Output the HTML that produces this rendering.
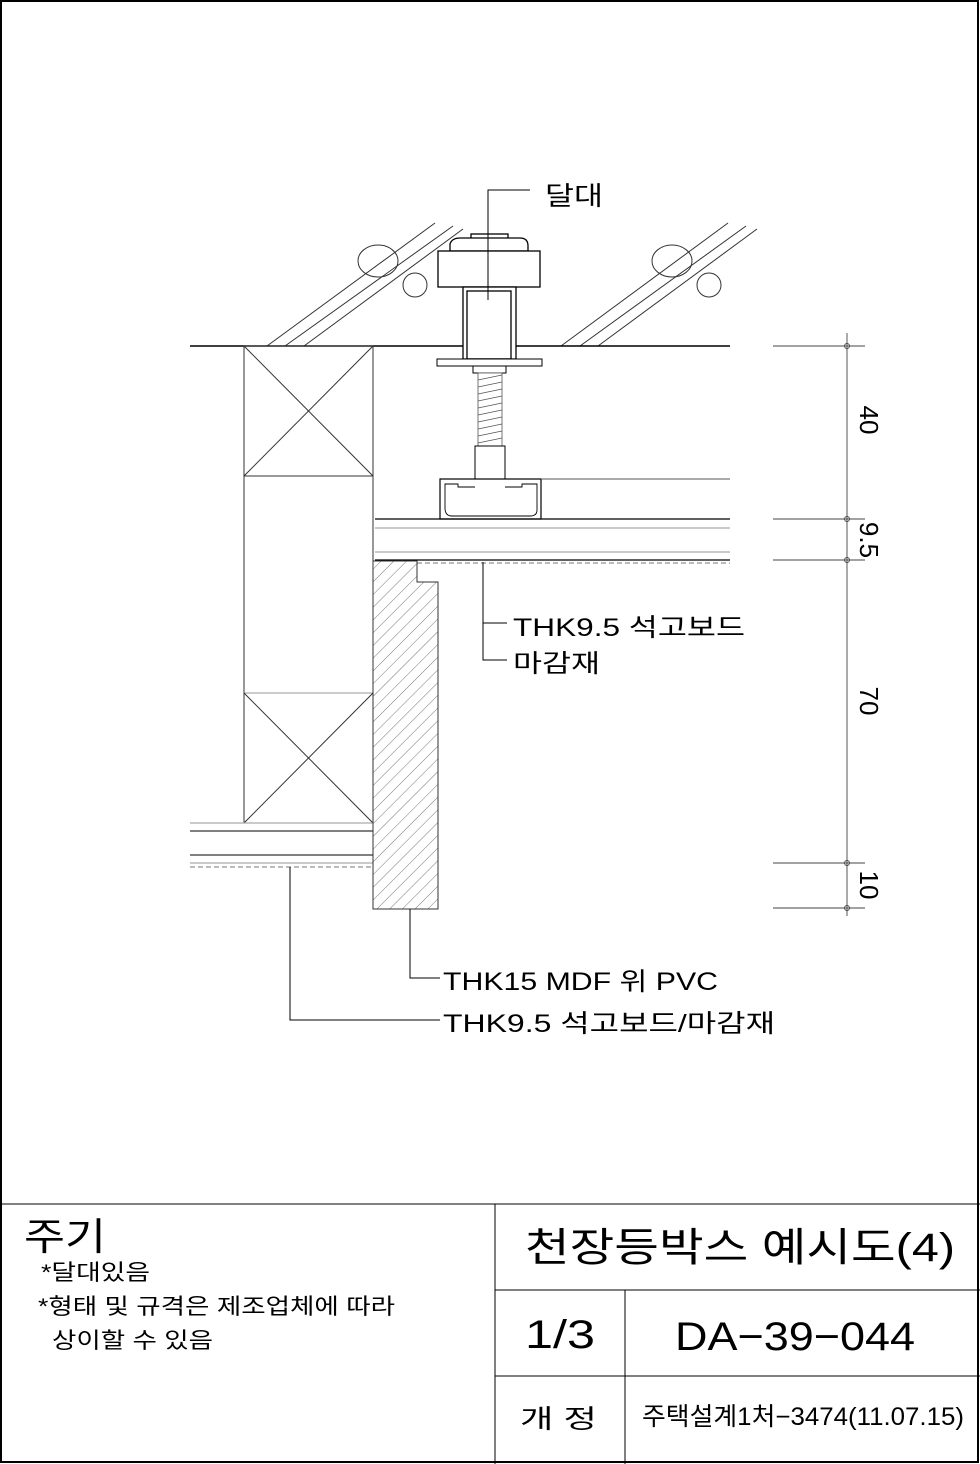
<!DOCTYPE html>
<html><head><meta charset="utf-8"><style>
html,body{margin:0;padding:0;background:#fff}
svg{display:block}
text{font-family:"Liberation Sans","Noto Sans CJK KR",sans-serif;fill:#000}
</style></head><body>
<svg width="980" height="1464" viewBox="0 0 980 1464">
<defs>
<pattern id="hatch" patternUnits="userSpaceOnUse" width="9" height="9" patternTransform="rotate(45)">
<line x1="0" y1="0" x2="0" y2="9" stroke="#555" stroke-width="0.8"/>
</pattern>
</defs>
<rect x="1" y="1" width="977" height="1461" fill="none" stroke="#000" stroke-width="2"/>

<g stroke="#333" stroke-width="1" fill="none">
<line x1="267" y1="346" x2="435" y2="223"/><line x1="285" y1="346" x2="453" y2="226"/><line x1="304" y1="346" x2="463" y2="229"/>
<line x1="561" y1="346" x2="728" y2="223"/><line x1="580" y1="346" x2="746" y2="226"/><line x1="598" y1="346" x2="757" y2="229"/>
<ellipse cx="378" cy="261" rx="20" ry="16"/><ellipse cx="415" cy="285" rx="12" ry="12"/>
<ellipse cx="672" cy="261" rx="20" ry="16"/><ellipse cx="709" cy="285" rx="12" ry="12"/>
</g>
<line x1="190" y1="346" x2="730" y2="346" stroke="#000" stroke-width="1.6"/>

<g stroke="#000" stroke-width="1.3" fill="#fff">
<rect x="471" y="234" width="37" height="6"/>
<path d="M450 251 L450 244 Q452 238 460 238 L520 238 Q528 238 528 246 L528 251 Z"/>
<rect x="438" y="251" width="102" height="36"/>
<rect x="463" y="287" width="53" height="72"/>
<rect x="467" y="291" width="44" height="68" fill="none"/>
<rect x="437" y="359" width="105" height="7" stroke-width="1"/>
<rect x="473" y="366" width="33" height="7" stroke-width="1"/>
<rect x="478" y="373" width="24" height="73" stroke-width="0.8" stroke="#555"/>
<g stroke="#555" stroke-width="0.8">
<line x1="478" y1="380" x2="502" y2="375"/><line x1="478" y1="387" x2="502" y2="382"/><line x1="478" y1="394" x2="502" y2="389"/><line x1="478" y1="401" x2="502" y2="396"/><line x1="478" y1="408" x2="502" y2="403"/><line x1="478" y1="415" x2="502" y2="410"/><line x1="478" y1="422" x2="502" y2="417"/><line x1="478" y1="429" x2="502" y2="424"/><line x1="478" y1="436" x2="502" y2="431"/><line x1="478" y1="443" x2="502" y2="438"/>
</g>
<rect x="475" y="446" width="30" height="33" stroke-width="1"/>
<rect x="440" y="479" width="101" height="40" stroke-width="1.2"/>
<path d="M475 487 L458 487 L458 484 L445 484 L445 508 Q445 516 452 516 L530 516 Q537 516 537 510 L537 484 L522 484 L522 487 L505 487" fill="none" stroke-width="0.9"/>
</g>
<line x1="541" y1="479" x2="730" y2="479" stroke="#555"/>

<g>
<line x1="375" y1="519" x2="730" y2="519" stroke="#000" stroke-width="1.3"/>
<line x1="375" y1="528" x2="730" y2="528" stroke="#aaa" stroke-width="1.2"/>
<line x1="375" y1="552" x2="730" y2="552" stroke="#aaa" stroke-width="1.2"/>
<line x1="375" y1="560" x2="730" y2="560" stroke="#000" stroke-width="1.2"/>
<line x1="417" y1="563" x2="730" y2="563" stroke="#777" stroke-dasharray="5,3"/>
</g>

<g stroke="#333" stroke-width="1" fill="none">
<rect x="244" y="346" width="129" height="477"/>
<line x1="244" y1="476" x2="373" y2="476"/>
<line x1="244" y1="346" x2="373" y2="476"/><line x1="373" y1="346" x2="244" y2="476"/>
<line x1="244" y1="693" x2="373" y2="693" stroke="#999"/>
<line x1="244" y1="693" x2="373" y2="823"/><line x1="373" y1="693" x2="244" y2="823"/>
</g>

<g>
<line x1="190" y1="823" x2="373" y2="823" stroke="#aaa" stroke-width="1.2"/>
<line x1="190" y1="831" x2="373" y2="831" stroke="#000"/>
<line x1="190" y1="855" x2="373" y2="855" stroke="#000"/>
<line x1="190" y1="863" x2="373" y2="863" stroke="#aaa" stroke-width="1.2"/>
<line x1="190" y1="867" x2="373" y2="867" stroke="#777" stroke-dasharray="5,3"/>
</g>

<path d="M373 561 L417 561 L417 582 L438 582 L438 909 L373 909 Z" fill="url(#hatch)" stroke="#333" stroke-width="1"/>

<g stroke="#000" stroke-width="1" fill="none">
<polyline points="488,300 488,190 530,190"/>
<polyline points="483,562 483,623 507,623"/>
<polyline points="483,623 483,660 507,660"/>
<polyline points="410,909 410,978 440,978"/>
<polyline points="290,867 290,1020 440,1020"/>
</g>
<text x="545" y="205" font-size="26" textLength="58" lengthAdjust="spacingAndGlyphs">달대</text>
<text x="513" y="636" font-size="25" textLength="232" lengthAdjust="spacingAndGlyphs">THK9.5 석고보드</text>
<text x="513" y="672" font-size="25" textLength="87" lengthAdjust="spacingAndGlyphs">마감재</text>
<text x="443" y="990" font-size="25" textLength="275" lengthAdjust="spacingAndGlyphs">THK15 MDF 위 PVC</text>
<text x="443" y="1032" font-size="25" textLength="332" lengthAdjust="spacingAndGlyphs">THK9.5 석고보드/마감재</text>

<g stroke="#444" stroke-width="0.9" fill="none">
<line x1="847" y1="333" x2="847" y2="916"/>
<line x1="773" y1="346" x2="865" y2="346"/><line x1="773" y1="519" x2="865" y2="519"/><line x1="773" y1="560" x2="865" y2="560"/><line x1="773" y1="863" x2="865" y2="863"/><line x1="773" y1="908" x2="865" y2="908"/>
<circle cx="847" cy="346" r="2.5"/><circle cx="847" cy="519" r="2.5"/><circle cx="847" cy="560" r="2.5"/><circle cx="847" cy="863" r="2.5"/><circle cx="847" cy="908" r="2.5"/>
</g>
<g font-size="26">
<text transform="translate(860,420) rotate(90)" text-anchor="middle">40</text>
<text transform="translate(860,540) rotate(90)" text-anchor="middle">9.5</text>
<text transform="translate(860,701) rotate(90)" text-anchor="middle">70</text>
<text transform="translate(860,885) rotate(90)" text-anchor="middle">10</text>
</g>

<g stroke="#000" stroke-width="1">
<line x1="0" y1="1204" x2="980" y2="1204"/>
<line x1="495" y1="1204" x2="495" y2="1464"/>
<line x1="495" y1="1290" x2="980" y2="1290"/>
<line x1="495" y1="1376" x2="980" y2="1376"/>
<line x1="625" y1="1290" x2="625" y2="1464"/>
</g>
<text x="24" y="1250" font-size="38" textLength="82" lengthAdjust="spacingAndGlyphs">주기</text>
<text x="41" y="1280" font-size="22" textLength="109" lengthAdjust="spacingAndGlyphs">*달대있음</text>
<text x="38" y="1314" font-size="22" textLength="357" lengthAdjust="spacingAndGlyphs">*형태 및 규격은 제조업체에 따라</text>
<text x="52" y="1348" font-size="22" textLength="161" lengthAdjust="spacingAndGlyphs">상이할 수 있음</text>
<text x="525" y="1261" font-size="40" textLength="430" lengthAdjust="spacingAndGlyphs">천장등박스 예시도(4)</text>
<text x="525" y="1348" font-size="40" textLength="70" lengthAdjust="spacingAndGlyphs">1/3</text>
<text x="675" y="1350" font-size="40" textLength="240" lengthAdjust="spacingAndGlyphs">DA−39−044</text>
<text x="520" y="1428" font-size="26" textLength="77" lengthAdjust="spacingAndGlyphs">개  정</text>
<text x="642" y="1425" font-size="25" textLength="322" lengthAdjust="spacingAndGlyphs">주택설계1처−3474(11.07.15)</text>
</svg>
</body></html>
